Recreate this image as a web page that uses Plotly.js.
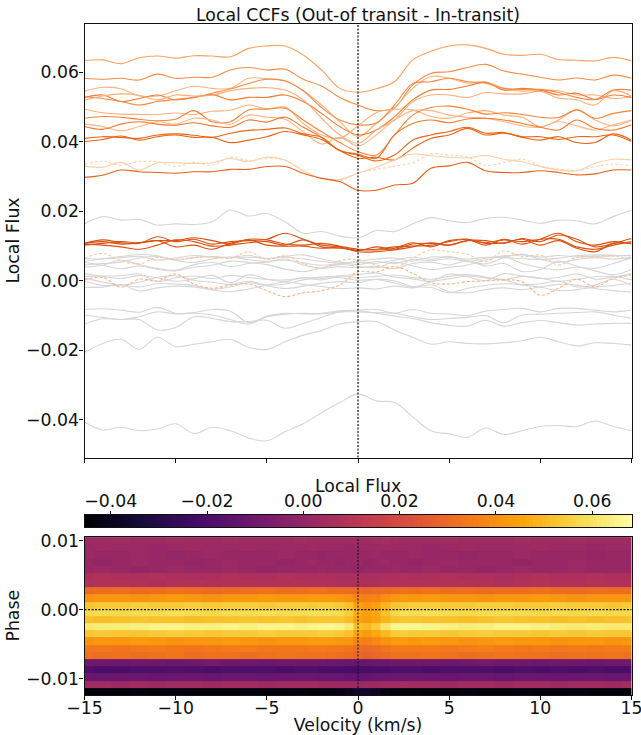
<!DOCTYPE html>
<html><head><meta charset="utf-8">
<script src="https://cdn.plot.ly/plotly-3.0.1.min.js"></script>
<style>html,body{margin:0;padding:0;background:#fff}</style></head>
<body><div id="chart" style="width:641px;height:735px"></div>
<script>
// Velocity knots (km/s) shared by all local CCF curves
const velocity = [-15,-14,-13,-12,-11,-10,-9,-8,-7,-6,-5,-4,-3,-2,-1,0,1,2,3,4,5,6,7,8,9,10,11,12,13,14,15];
// Local flux in units of 1e-3
const grayLines = [
 [16.3,18.4,17.4,17.6,16,16.3,16.1,16.9,20.3,18.6,19.3,16.9,13.6,14.1,12.8,12.3,14.4,14.1,16.3,18.1,17.2,16.7,17.9,18.2,17.4,16.5,17.4,17.2,16.3,18.4,20.3],
 [5.5,6.3,6.9,7.5,7.1,5.9,6.6,6.9,6.7,7.2,6.3,7.0,7.4,6.2,5.3,4.6,5.5,4.9,6.1,5.7,6.3,5.5,6.4,7.1,7.4,6.8,7.2,6.8,7.0,7.1,7.3],
 [4.5,4.9,5.3,6.5,6.9,5.8,5.2,6.2,6.7,6.0,5.5,5.9,5.1,4.4,4.8,5.2,5.0,5.9,6.7,6.1,6.9,5.6,4.8,6.6,7.6,6.1,5.2,6.1,6.6,6.2,6.6],
 [3.9,4.4,5.9,4.6,3.5,3.0,4.6,5.2,4.0,4.9,5.3,6.2,4.5,3.5,4.0,3.7,4.1,3.4,4.9,5.3,4.5,5.7,4.2,4.9,2.6,3.2,5.6,4.1,2.8,1.7,3.2],
 [5.2,4.4,3.4,4.2,3.2,2.8,3.9,4.4,5.6,5.2,4.6,3.3,2.6,3.6,4.6,4.1,3.7,5.3,4.2,3.2,3.8,4.5,5.9,7.0,4.9,3.7,3.1,3.9,3.5,4.9,6.6],
 [2.0,1.2,0.6,1.5,0.8,-0.2,0.5,1.5,-0.6,1.7,0.4,-0.3,0.9,0.2,1.4,1.7,2.2,1.0,0.5,-0.2,1.9,1.1,0.0,2.0,1.3,0.6,0.9,1.9,0.4,1.0,2.0],
 [0.7,-0.4,-1.3,-0.4,0.9,1.4,0.1,-0.5,-1.1,-0.2,-1.3,-1.0,0.2,0.6,0.9,0.1,0.3,-0.7,-1.9,-0.3,0.5,1.3,0.7,0.1,-1.1,-0.9,-0.2,-1.8,-1.3,0.4,-1.4],
 [-0.1,-1.4,-1.3,-1.8,-0.9,-1.0,-1.4,-2.5,-1.8,-0.6,-1.5,-2.3,-1.6,-0.8,-0.3,-0.6,0.4,-0.1,-1.7,-2.0,-3.5,-2.2,-1.4,-0.9,-1.3,-1.9,-2.9,-2.6,-1.9,-1.4,-0.7],
 [-1.9,-1.9,-1.2,-3.0,-2.1,-1.6,-1.8,-2.7,-3.2,-2.4,-1.4,-0.4,-1.1,-1.7,-2.3,-2.1,-2.4,-1.6,-2.1,-1.2,-3.2,-3.5,-2.6,-2.1,-2.6,-1.8,-1.1,-1.3,-2.3,-2.9,-3.3],
 [1.2,1.3,1.4,1.9,-0.3,0.8,1.3,0.6,1.5,0.9,0.3,0.2,0.7,1.0,1.3,0.9,1.2,1.6,0.9,0.4,1.2,1.7,1.0,0.3,1.2,0.7,-0.2,0.4,1.1,1.2,0.2],
 [6.3,6.2,6.6,7.0,5.9,6.5,7.2,6.8,6.6,6.7,6.4,6.7,6.2,5.5,5.0,5.6,6.2,6.5,5.6,6.8,6.7,6.2,6.7,6.6,6.3,6.1,6.4,7.2,7.4,7.3,7.1],
 [-8.3,-8.1,-8.5,-9.1,-7.7,-9.4,-9.2,-8.3,-8.8,-12.1,-10.2,-9.4,-9.6,-9.4,-8.7,-8.5,-8.3,-9.4,-8.3,-9.4,-9.6,-10.1,-8.8,-8.3,-8,-9,-8,-8,-8.5,-9,-8.5],
 [-9.9,-10.6,-11.2,-10.4,-9,-9.6,-9.4,-9.9,-11.2,-12.5,-10.4,-9.7,-9.4,-9.6,-9,-9,-9.2,-9.4,-10.4,-11.2,-10.9,-10.6,-10.1,-12.1,-9.9,-9.7,-9.4,-9.2,-9,-9.9,-10.9],
 [-12.5,-11,-11.2,-11.2,-14.2,-13.5,-10.4,-10.9,-11.8,-11.8,-11.4,-13.7,-12.3,-10.6,-9,-8.7,-9.4,-10.2,-10.9,-12.1,-12.9,-13.1,-11.4,-13.1,-12.1,-11.5,-12.1,-12.8,-12.5,-12.3,-12.3],
 [-20.7,-18.1,-16.9,-19.8,-16.3,-19,-18.3,-17.6,-16.9,-19.2,-19.8,-17.6,-15.7,-14.4,-12.5,-11.8,-11.8,-14.2,-16.3,-18.3,-17.6,-18.1,-18.2,-17.9,-17.3,-16.3,-17.6,-18.8,-17.9,-18.1,-18.5],
 [-40.7,-43,-42.2,-43.2,-42.7,-41.2,-44,-42.2,-43.2,-45.3,-46.1,-43.5,-41.2,-38,-35.1,-32.6,-34.6,-35.1,-39.2,-43.2,-44.1,-45.1,-42.4,-44.3,-43.2,-42,-41.7,-42,-40.4,-42,-43.2]
];
const lineA = [63.3,63.5,62.4,64.1,64.6,64.0,64.7,64.6,64.4,66.8,67.5,67.5,64.9,60.6,55.3,54.2,55.2,57.2,63.5,66.0,67.5,67.8,66.8,65.1,64.8,65.1,63.6,63.4,63.2,64.2,63.2];
const lineB = [58.2,57.9,58.2,57.7,59.4,58.2,58.5,58.5,60.6,61.3,60.6,60.8,57.9,56,52.7,50.5,48.9,49.8,56.3,59.6,60.1,61.3,62.2,60.3,59.4,58.5,57.7,58.3,57.7,59.1,58.2];
const lineC = [54.5,55.6,55.2,53.1,53.1,54.6,55.9,55.3,55.3,58.2,58.1,57.5,54.6,50.5,45.7,41.4,45.2,49.6,55.3,58.7,58.2,56.8,57.2,55.3,54.5,54.8,54.6,53.4,53.4,52.4,52.9];
const lineD = [52.7,53.4,51.5,52.4,53.4,52,52.7,53.5,52,52.7,52.7,53.4,51.5,48.1,44.3,41.9,43.3,47.1,52,54.8,55,56,57,54.8,55.3,54.8,53.4,53.9,52.1,53.4,52.7];
const lineE = [52.9,52.4,51.5,50.5,51.5,52.1,52.7,53.9,55.1,56.7,57.9,57.4,54.6,49.8,46.2,44.8,45.3,50.5,56.7,57.2,58.2,57.2,56.8,55.3,55,55,54.1,52.7,52.1,54.8,54.8];
const lineF = [51.9,53.1,53.7,53.3,52,53.4,53.1,53.3,54.6,55.3,55.5,54.8,52,46.7,41.9,39.5,43.3,46.2,51.5,53.4,53.4,52.7,54.1,53.7,53.7,54.4,52.5,52,50.5,54.6,53.1];
const lineG = [49.3,48.3,47.9,47.8,47.8,48.2,47.8,48.7,49,50.5,49.4,49.9,45.2,41.9,40.9,44.5,48.3,49.3,49.1,47.2,46.7,48.2,48.9,47.6,47,44.3,46.2,49.1,46.2,44.5,46.2];
const lineH = [46.7,47.2,47,46.4,46,46.4,48.9,45.7,45.7,49.1,49.3,49.6,46.2,42.8,39.7,37.1,36.1,41.9,47.6,49.8,50.2,49.3,47.9,48.3,47.8,47,46.9,49.1,46.7,48.1,48.9];
const lineI = [45,44.3,43.1,44.3,45.7,45,46.7,46.2,45,47.6,47,46.4,42.8,39.3,41.2,38.7,41.9,46.2,48.9,48.9,47.6,47,46.7,45.7,44.5,44.1,45.7,44.5,43.3,44.8,46.2];
const lineJ = [44.3,43.5,45,45.7,45,44.7,45.4,44.5,44.1,46.2,45.6,47,44.1,41.2,37.4,36.4,35.2,41.9,45.2,46.2,45.4,46.5,46.7,46.2,45.2,44.1,43.3,46.2,43.8,43.3,44.8];
const lineK = [40.9,41.4,41.2,40.9,41.9,42.2,41.8,41.2,42.4,43.2,43.5,43.9,42.2,41.2,37.4,36.1,34.4,36.1,40.4,41.9,42.9,44.1,42.4,42.6,41.4,41.4,40.6,41.4,41.4,41.9,40];
const lineL = [40,40.6,41.6,40.4,41.4,41.9,41.2,41.2,39.7,40.4,41.4,42.9,41.9,40.6,37.4,35.2,35.5,34.7,38.1,40.9,41.9,43.8,41.9,42.4,41.2,40.4,41.4,39.7,39.7,42.2,40.4];
const lineM = [33,32.6,34,31.8,33.9,33.9,33.7,33.9,35.1,34.2,35.5,34.7,31.6,29.4,29.1,30.9,32.6,34.7,36.4,35.9,35.5,35.3,36,34.9,34.2,32.8,31.8,31.6,33.7,34.9,34.7];
const lineN = [33.5,34.3,33.2,34.2,34.2,32.8,34,33.2,35.5,34.5,35.2,34.5,31.6,29.4,28.7,30.9,32,32.9,33.9,36.4,36.1,35.5,33.2,33.9,34.9,33,32.1,31.6,32.8,33.5,33];
const lineO = [29.7,30.3,31.8,31.3,31.1,30.9,31.3,31.3,32,32,32.8,32.8,30.9,29.4,28.5,26,26,27.5,28,32.3,33,34,31.6,31.1,31.1,31.6,31.1,30.4,30.7,31.8,31.8];
const lineP1 = [10.7,11.7,10.9,10.7,12.6,11.2,11.9,10.5,11.2,11.5,11.9,13.6,11.9,10.2,9.7,8.6,9.7,9,10.5,10.7,10.2,11.5,11.5,10.7,12.1,11.2,13.1,11.9,9.7,10.7,12.1];
const lineP2 = [10.2,10.7,11.2,10.9,11.5,11.5,12.3,11.5,10.5,11.9,11.7,10.5,10.2,10.7,9.9,9,8.8,9.3,10.9,9.7,11.5,11.9,10.2,11.9,10.5,11.9,13.6,11.2,10.2,11.2,10.5];
const lineP3 = [10.5,10.2,9.7,9,10.2,11.7,11.2,9.9,10.2,10.9,11.2,10.2,11.7,9.7,9.3,8.8,9,9.7,9.9,10.2,11.2,11.9,10.7,10.9,11.9,10.2,11.5,9.3,8.3,10.7,10.7];
const lineP4 = [10.7,11.2,10.5,10.9,11.5,9.7,10.2,9,10.7,11.7,10.2,9.9,9.9,9.3,9.6,8.3,8.3,8.8,9.7,10.9,10.2,11.5,10.9,11.7,11.2,11.9,11.9,9.7,9,10.2,11.2];
const lineQ = [6.4,7.8,5.7,4.8,6.7,6.1,6.7,6.9,6.4,8.3,6.1,7.1,4.9,3.5,5.7,6.1,4.5,3.5,6.4,8.8,8.3,7.6,5.4,8.5,6.9,7.3,4.5,6.7,6.9,7.1,6.1];
const lineR = [0.2,0.9,-1.9,0.4,-0.1,1.9,-1,-2.2,-1.3,-1,-2.9,-4.6,-3.5,-2.9,-1.3,2.5,2.5,4,2.1,-0.6,-1,-0.3,-0.1,0.2,-0.3,-4.2,-2.2,0.4,-1.8,0.6,1.6];

const orangeLines = [lineA,lineB,lineC,lineD,lineE,lineF,lineG,lineH,lineI,lineJ,lineK,lineL,lineM,lineN,lineO,lineP1,lineP2,lineP3,lineP4,lineQ,lineR];
const orangeColors = ['#fda25f','#f98b43','#fdb27d','#f37a2e','#f68a45','#fcac78','#fdb07a','#f68236','#fdb585','#f2752a','#ea6414','#e9640f','#fdcfa6','#fdd5b0','#e8621a','#d9500f','#d9500f','#d9500f','#d9500f','#fdc89a','#fdb27d'];
const orangeDash = ['solid','solid','solid','solid','solid','solid','solid','solid','solid','solid','solid','solid','solid','dash','solid','solid','solid','solid','solid','dash','dash'];

// Heatmap: velocity columns, phase rows, flux (1e-3), bottom row first
const heatVelocity = [-15,-14,-13,-12,-11,-10,-9,-8,-7,-6,-5,-4,-3,-2.5,-2,-1.5,-1,-0.5,0,0.5,1,1.5,2,2.5,3,4,5,6,7,8,9,10,11,12,13,14,15];
const heatPhase = [-0.01185,-0.01081,-0.00977,-0.00873,-0.00769,-0.00665,-0.00561,-0.00457,-0.00353,-0.00249,-0.00145,-0.00041,0.00063,0.00167,0.00271,0.00375,0.00479,0.00583,0.00687,0.00791,0.00895,0.00999];
const heatFlux = [
 [-44,-44,-44,-43,-44,-43,-44,-44,-44,-43,-44,-44,-43,-44,-44,-43,-42,-40,-37,-37,-39,-42,-43,-44,-43,-44,-44,-43,-44,-44,-43,-44,-44,-43,-44,-44,-44],
 [4,4,3,4,3,4,4,3,4,4,3,4,4,4,3,3,3,2,2,3,3,4,4,5,4,4,3,4,4,3,4,4,3,4,4,3,4],
 [-11,-12,-11,-11,-12,-11,-11,-12,-11,-11,-12,-11,-11,-11,-12,-12,-12,-13,-13,-13,-12,-12,-11,-11,-11,-11,-12,-11,-11,-12,-11,-11,-12,-11,-11,-12,-11],
 [-19,-20,-20,-19,-19,-18,-19,-20,-19,-19,-19,-20,-19,-19,-20,-20,-20,-21,-21,-21,-20,-20,-19,-19,-19,-20,-19,-19,-19,-20,-19,-20,-19,-20,-19,-20,-20],
 [-10,-10,-11,-10,-10,-11,-10,-9,-10,-10,-11,-10,-10,-10,-10,-11,-11,-12,-12,-12,-11,-11,-10,-10,-10,-10,-11,-10,-9,-10,-10,-11,-10,-10,-11,-10,-10],
 [32,31,32,31,32,33,31,32,32,31,32,33,32,32,32,32,31,31,29,28,29,30,32,32,32,33,32,31,32,33,32,32,31,32,32,33,32],
 [34,34,33,34,35,34,33,34,35,35,34,34,34,35,35,34,34,33,31,30,31,33,35,35,35,35,34,35,36,35,34,35,34,35,34,35,35],
 [41,42,42,43,42,41,42,42,43,42,41,42,42,43,43,43,42,42,37,36,38,41,43,43,42,43,42,41,42,43,42,42,41,42,42,41,42],
 [53,54,53,53,54,55,54,53,54,54,55,54,54,54,55,55,54,52,45,43,46,50,54,55,54,54,53,54,55,54,54,53,54,53,54,53,53],
 [62,63,63,64,65,65,64,64,65,64,65,65,64,65,66,66,65,62,52,50,54,61,66,66,66,65,64,63,64,65,65,64,63,62,63,62,62],
 [52,51,52,53,52,52,51,52,52,53,52,53,52,53,53,53,53,51,45,43,45,49,52,53,53,52,52,51,52,53,52,52,51,52,51,52,52],
 [57,58,57,58,58,59,58,57,58,58,59,58,58,59,59,59,58,55,47,44,46,52,57,59,58,59,58,57,58,58,58,57,58,57,58,57,57],
 [53,54,54,55,54,54,55,54,55,55,54,55,55,54,55,55,54,52,45,42,44,49,53,54,55,55,54,54,55,55,54,54,55,54,54,53,54],
 [41,42,42,41,42,43,42,41,42,42,43,42,42,43,43,43,42,41,37,36,37,40,42,43,42,43,42,42,41,42,42,43,42,41,42,42,42],
 [30,31,31,30,31,32,31,30,31,31,32,31,31,32,32,31,31,31,30,29,30,31,31,32,31,32,31,31,30,31,31,32,31,30,31,31,31],
 [8,8,9,8,7,8,9,8,8,9,8,8,9,8,8,8,7,7,7,7,7,8,8,8,9,8,8,9,8,7,8,9,8,8,9,8,8],
 [7,8,7,7,8,7,6,7,8,7,7,8,7,7,7,7,6,6,6,6,6,7,7,8,7,7,8,7,7,6,7,8,7,7,8,7,7],
 [1,2,1,0,1,2,1,1,2,1,0,1,1,1,2,1,1,1,0,1,1,1,2,1,1,2,1,1,0,1,2,1,1,2,1,1,1],
 [1,0,1,2,1,1,0,1,2,1,1,0,1,2,1,1,0,1,1,0,1,2,1,1,0,1,2,1,1,1,0,1,1,2,1,1,1],
 [2,1,1,2,1,0,1,2,1,1,1,2,1,1,0,1,1,1,1,1,2,1,1,1,2,1,1,0,1,1,2,1,1,1,0,1,1],
 [2,3,2,2,1,2,3,2,2,3,2,2,2,3,2,2,2,1,2,2,2,3,2,2,2,1,2,3,2,2,2,3,2,2,1,2,2],
 [3,3,4,3,3,4,3,3,4,3,3,3,4,3,3,3,3,3,3,3,4,5,4,3,3,3,4,3,3,3,4,3,3,4,3,3,3]
];
const fluxMin = -45.45, fluxMax = 68.17;
const barTicks = [-0.04,-0.02,0,0.02,0.04,0.06];
const barLevels = Array.from({length:128},(_,i)=>(fluxMin+(fluxMax-fluxMin)*(i+0.5)/128)/1000);

const inferno = [[0,'#000004'],[0.1,'#160b39'],[0.2,'#420a68'],[0.3,'#6a176e'],[0.4,'#932667'],[0.5,'#bc3754'],[0.6,'#dd513a'],[0.7,'#f37819'],[0.8,'#fca50a'],[0.9,'#f6d746'],[1,'#fcffa4']];
const W=641,H=735;
const fx=p=>p/W, fy=p=>1-p/H;
const font={family:'"DejaVu Sans",sans-serif',size:17.3,color:'#111'};
const toFlux=a=>a.map(v=>v/1000);
const traces=[];
grayLines.forEach(l=>traces.push({type:'scatter',mode:'lines',x:velocity,y:toFlux(l),xaxis:'x',yaxis:'y',hoverinfo:'skip',
  line:{color:'#d6d6d6',width:1.1,shape:'spline',smoothing:1}}));
orangeLines.forEach((l,i)=>traces.push({type:'scatter',mode:'lines',x:velocity,y:toFlux(l),xaxis:'x',yaxis:'y',hoverinfo:'skip',
  line:{color:orangeColors[i],width:1.1,dash:orangeDash[i]==='dash'?'3px,2px':'solid',shape:'spline',smoothing:1}}));
traces.push({type:'heatmap',x:heatVelocity,y:heatPhase,z:heatFlux.map(toFlux),xaxis:'x2',yaxis:'y2',colorscale:inferno,zmin:fluxMin/1000,zmax:fluxMax/1000,showscale:false,hoverinfo:'skip'});
traces.push({type:'heatmap',x:barLevels,y:[0],z:[barLevels],xaxis:'x3',yaxis:'y3',colorscale:inferno,zmin:fluxMin/1000,zmax:fluxMax/1000,showscale:false,hoverinfo:'skip'});

const axisBase={showline:true,mirror:true,linecolor:'#111',linewidth:1.2,ticks:'outside',ticklen:4,tickwidth:1,tickcolor:'#111',showgrid:false,zeroline:false,tickfont:font,automargin:false,ticklabeloverflow:'allow'};
const dotted='2px,1.5px';
const layout={
  width:W,height:H,margin:{l:0,r:0,t:0,b:0},paper_bgcolor:'#fff',plot_bgcolor:'#fff',showlegend:false,font:font,
  title:{text:'Local CCFs (Out-of transit - In-transit)',x:fx(358),xanchor:'center',xref:'paper',y:fy(14.5),yanchor:'middle',font:font},
  xaxis:{...axisBase,domain:[fx(84.5),fx(631.5)],anchor:'y',range:[-15,15],tickvals:[-15,-10,-5,0,5,10,15],showticklabels:false},
  yaxis:{...axisBase,domain:[fy(457.5),fy(23.5)],anchor:'x',range:[-0.0509,0.07396],tickvals:[-0.04,-0.02,0,0.02,0.04,0.06],tickformat:'.2f',ticklabelstandoff:-3,title:{text:'Local Flux',font:font,standoff:1}},
  xaxis2:{...axisBase,domain:[fx(84.5),fx(631.5)],anchor:'y2',range:[-15,15],tickvals:[-15,-10,-5,0,5,10,15],ticklabelstandoff:-7,title:{text:'Velocity (km/s)',font:font,standoff:5}},
  yaxis2:{...axisBase,domain:[fy(695),fy(536.5)],anchor:'x2',range:[-0.01237,0.0106],tickvals:[-0.01,0,0.01],tickformat:'.2f',ticklabelstandoff:-3,title:{text:'Phase',font:font,standoff:1}},
  xaxis3:{...axisBase,domain:[fx(84.5),fx(631.5)],anchor:'y3',side:'top',range:[fluxMin/1000,fluxMax/1000],tickvals:barTicks,tickformat:'.2f',ticklen:3,ticklabelstandoff:-3},
  yaxis3:{...axisBase,domain:[fy(527),fy(515)],anchor:'x3',range:[-0.5,0.5],showticklabels:false,ticks:''},
  annotations:[{text:'Local Flux',xref:'paper',yref:'paper',x:fx(358),y:fy(486),xanchor:'center',yanchor:'middle',showarrow:false,font:font}],
  shapes:[
    {type:'line',xref:'x',yref:'y domain',x0:0,x1:0,y0:0,y1:1,line:{color:'#111',width:1.2,dash:dotted}},
    {type:'line',xref:'x2',yref:'y2 domain',x0:0,x1:0,y0:0,y1:1,line:{color:'#111',width:1,dash:dotted}},
    {type:'line',xref:'x2 domain',yref:'y2',x0:0,x1:1,y0:0,y1:0,line:{color:'#111',width:1.2,dash:dotted}}
  ]
};
Plotly.newPlot('chart',traces,layout,{displayModeBar:false,responsive:false});
</script></body></html>
